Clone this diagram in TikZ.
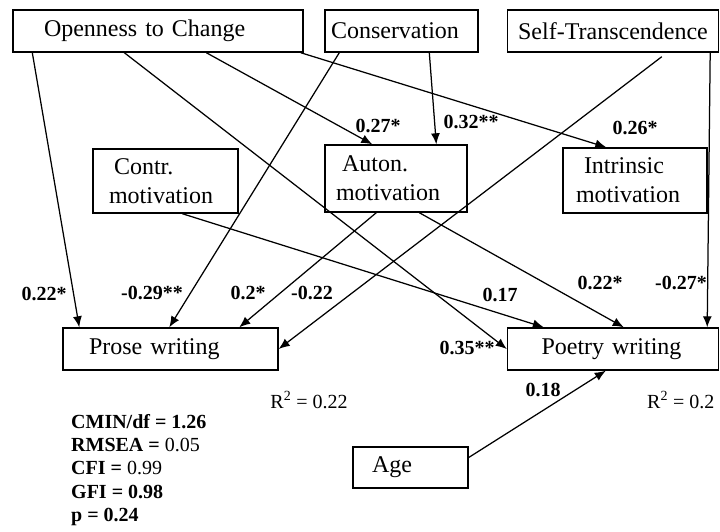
\documentclass[tikz,border=0pt]{standalone}
\usepackage{fontspec}
\setmainfont{Liberation Serif}
\usetikzlibrary{calc,arrows.meta}

\begin{document}
\begin{tikzpicture}[x=1pt,y=-1pt]
    \tikzstyle{box}=[draw,line width=1.4pt,align=left,inner ysep=0pt,font=\fontsize{24}{29}\selectfont]
    \tikzstyle{link}=[-{Latex[length=11pt,width=9pt]},line width=1.25pt]
    \tikzstyle{coef}=[font=\fontsize{20}{24}\selectfont\bfseries,inner sep=0pt]
    \useasboundingbox (0,0) rectangle (720,532);
    % values
    \node[box,inner xsep=31pt,text width=228pt,minimum height=42pt] (open) at (158,31) {Openness to Change};
    \node[box,inner xsep=6pt,text width=141pt,minimum height=42pt] (cons) at (401.5,31) {Conservation};
    \node[box,inner xsep=5pt,text width=201pt,minimum height=42pt,align=center] (self) at (613,31) {Self-Transcendence};
    % motivation
    \node[box,inner xsep=16pt,text width=113pt,minimum height=64pt] (contr) at (165.5,181) {\hspace{5pt}Contr.\\motivation};
    \node[box,inner xsep=11pt,text width=120pt,minimum height=67pt] (auton) at (396,178.5) {\hspace{6pt}Auton.\\motivation};
    \node[box,inner xsep=13pt,text width=118pt,minimum height=65pt] (intr) at (635,180.5) {\hspace{8pt}Intrinsic\\motivation};
    % writing
    \node[box,inner xsep=26pt,text width=163pt,minimum height=42pt] (prose) at (170.5,349) {Prose writing};
    \node[box,inner xsep=34pt,text width=143pt,minimum height=42pt] (poetry) at (613,349) {Poetry writing};
    \node[box,inner xsep=19pt,text width=77pt,minimum height=41pt] (age) at (410.5,467.5) {Age};
    % paths to prose writing
    \draw[link] ($(open.south west)+(20,0)$) -- ($(prose.north west)+(17,0)$);
    \draw[link] ($(cons.south west)+(15,0)$) -- ($(prose.north west)+(107,0)$);
    \draw[link] ($(auton.south west)+(52,0)$) -- ($(prose.north west)+(177,0)$);
    \draw[link] ($(self.south west)+(155,4)$) -- (prose.east);
    % paths to motivation
    \draw[link] ($(open.south west)+(194,0)$) -- ($(auton.north west)+(48,0)$);
    \draw[link] ($(cons.south west)+(105,0)$) -- ($(auton.north west)+(112,0)$);
    \draw[link] ($(open.south east)+(-3,0)$) -- ($(intr.north west)+(44,0)$);
    % paths to poetry writing
    \draw[link] ($(open.south west)+(112,0)$) -- (poetry.west);
    \draw[link] ($(contr.south west)+(90,0)$) -- ($(poetry.north west)+(37,0)$);
    \draw[link] ($(auton.south west)+(95,0)$) -- ($(poetry.north west)+(117,0)$);
    \draw[link] ($(self.south east)+(-9,0)$) -- ($(poetry.north east)+(-12,0)$);
    \draw[link] ($(age.east)+(0,-10)$) -- ($(poetry.south west)+(99,0)$);
    % coefficients
    \node[coef] (c1) at (44,294) {0.22*};
    \node[coef] (c2) at (152,293) {-0.29**};
    \node[coef] (c3) at (248,293) {0.2*};
    \node[coef] (c4) at (312,293) {-0.22};
    \node[coef] (c5) at (378,126) {0.27*};
    \node[coef] (c6) at (471,122) {0.32**};
    \node[coef] (c7) at (635,128) {0.26*};
    \node[coef] (c8) at (467,348) {0.35**};
    \node[coef] (c9) at (500,295) {0.17};
    \node[coef] (c10) at (600,283) {0.22*};
    \node[coef] (c11) at (681,283) {-0.27*};
    \node[coef] (c12) at (543,390) {0.18};
    % explained variance
    \node[font=\fontsize{20}{24}\selectfont,inner sep=0pt] (r1) at (309,400) {R\textsuperscript{2} = 0.22};
    \node[font=\fontsize{20}{24}\selectfont,inner sep=0pt,anchor=west] (r2) at (647,400) {R\textsuperscript{2} = 0.2};
    % fit indices
    \node[anchor=north west,align=left,inner sep=0pt,font=\fontsize{20}{23.3}\selectfont] (fit) at (71,414) {\textbf{CMIN/df = 1.26}\\\textbf{RMSEA =} 0.05\\\textbf{CFI =} 0.99\\\textbf{GFI = 0.98}\\\textbf{p = 0.24}};
\end{tikzpicture}
\end{document}
